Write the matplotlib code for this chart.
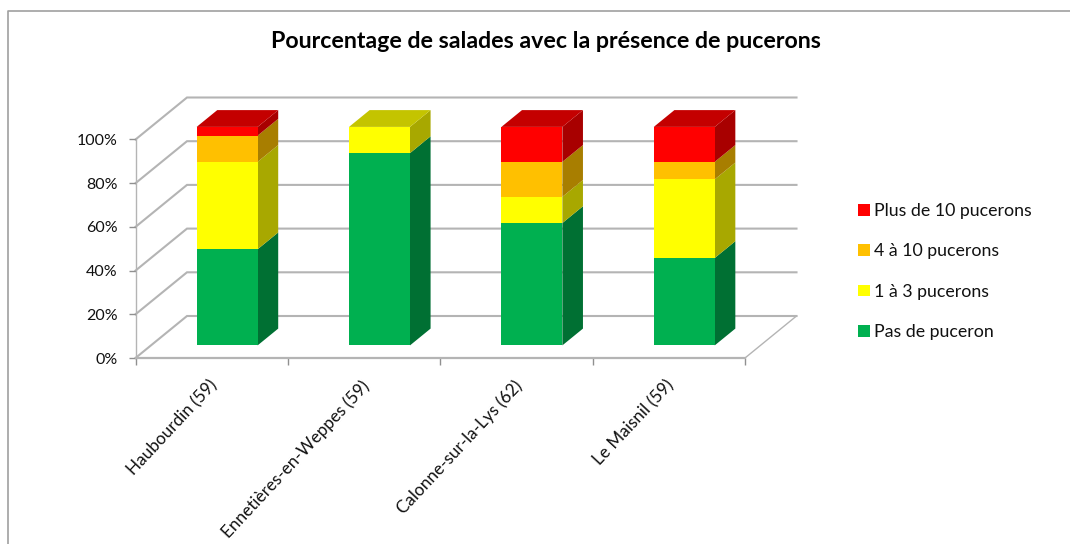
import matplotlib

matplotlib.use("Agg")
import matplotlib.pyplot as plt
from matplotlib.patches import Patch

plt.rcParams["font.family"] = ["Lato", "DejaVu Sans"]

# Values
villes = ["Haubourdin (59)", "Ennetières-en-Weppes (59)", "Calonne-sur-la-Lys (62)", "Le Maisnil (59)"]
pas_de_puceron = [44, 88, 56, 40]
un_a_trois = [40, 12, 12, 36]
quatre_a_dix = [12, 0, 16, 8]
plus_de_dix = [4, 0, 16, 16]
y_ticks = [0, 20, 40, 60, 80, 100]

series_names = ["Pas de puceron", "1 à 3 pucerons", "4 à 10 pucerons", "Plus de 10 pucerons"]
series_values = [pas_de_puceron, un_a_trois, quatre_a_dix, plus_de_dix]
front_colors = ["#00B050", "#FFFF00", "#FFC000", "#FF0000"]
side_colors = ["#007033", "#A8A800", "#A87E00", "#A80000"]
top_colors = ["#008A3E", "#C4C400", "#C49400", "#C40000"]

# Oblique 3D look: one unit of depth moves a point by these data offsets
DEPTH_X = 51.5 / 152.4
DEPTH_Y = 42 / 2.185
BAR_WIDTH = 0.40
Z_FRONT = 0.30
Z_BACK = 0.70
GRID = "#b4b4b4"


def project(x, y, z):
    return x + z * DEPTH_X, y + z * DEPTH_Y


def face(ax, corners, color, zorder):
    xs, ys = zip(*[project(*c) for c in corners])
    ax.fill(xs, ys, color=color, lw=0, zorder=zorder, clip_on=False)


fig = plt.figure(figsize=(10.7, 5.44), dpi=100)
ax = fig.add_axes([135.5 / 1070, (544 - 358) / 544, 609.5 / 1070, 218.5 / 544])
ax.set_xlim(0, 4)
ax.set_ylim(0, 100)

# Walls and floor
for tick in y_ticks:
    xs, ys = zip(project(0, tick, 0), project(0, tick, 1), project(4, tick, 1))
    ax.plot(xs, ys, color=GRID, lw=1.5, clip_on=False, zorder=1, solid_joinstyle="miter")
xs, ys = zip(project(4, 0, 1), project(4, 0, 0))
ax.plot(xs, ys, color=GRID, lw=1.0, clip_on=False, zorder=1)

# Stacked bars, drawn back to front
for i in range(len(villes)):
    left = i + 0.5 - BAR_WIDTH / 2
    right = i + 0.5 + BAR_WIDTH / 2
    bottom = 0
    for k, values in enumerate(series_values):
        h = values[i]
        if h == 0:
            continue
        front_x, front_y = project(i + 0.5, bottom, Z_FRONT)
        ax.bar(front_x, h, BAR_WIDTH, bottom=front_y, color=front_colors[k], lw=0, zorder=4, clip_on=False)
        face(ax, [(right, bottom, Z_FRONT), (right, bottom, Z_BACK),
                  (right, bottom + h, Z_BACK), (right, bottom + h, Z_FRONT)], side_colors[k], 3)
        bottom += h
        top_k = k
    face(ax, [(left, bottom, Z_FRONT), (right, bottom, Z_FRONT),
              (right, bottom, Z_BACK), (left, bottom, Z_BACK)], top_colors[top_k], 3)

# Axes
ax.patch.set_visible(False)
for name in ["top", "right"]:
    ax.spines[name].set_visible(False)
for name in ["left", "bottom"]:
    ax.spines[name].set_color(GRID)
    ax.spines[name].set_zorder(5)
ax.spines["left"].set_linewidth(1.0)
ax.spines["bottom"].set_linewidth(1.6)
ax.set_yticks(y_ticks)
ax.set_yticklabels([f"{t}%" for t in y_ticks], fontsize=11.5, color="#111111")
ax.set_xticks(range(5))
ax.set_xticklabels([])
ax.set_xticks([i + 0.48 for i in range(4)], labels=villes, minor=True)
ax.tick_params(axis="y", length=5, width=1, color="#909090", pad=8)
ax.tick_params(axis="x", which="major", length=5, width=1, color="#909090")
ax.tick_params(axis="x", which="minor", length=0, pad=14)
plt.setp(ax.get_xticklabels(minor=True), rotation=47, ha="right", rotation_mode="anchor",
         fontsize=12.3, color="#111111")

# Legend, highest class first
handles = [Patch(color=c, lw=0) for c in front_colors[::-1]]
fig.legend(handles, series_names[::-1], loc="center left", bbox_to_anchor=(842 / 1070, 1 - 271.5 / 544),
           frameon=False, fontsize=12.8, handlelength=0.65, handleheight=0.65, handletextpad=0.25,
           labelspacing=1.37, labelcolor="#111111")

fig.text(546 / 1070, 1 - 42 / 544, "Pourcentage de salades avec la présence de pucerons",
         ha="center", va="center", fontsize=16.7, fontweight="bold", color="black")

# Chart border: only top and left are inside the crop
fig.add_artist(plt.Line2D([7.5 / 1070, 7.5 / 1070, 1], [0, 1 - 11 / 544, 1 - 11 / 544],
                          color="#a0a0a0", lw=1.2))

fig.savefig("out.png", dpi=100)
